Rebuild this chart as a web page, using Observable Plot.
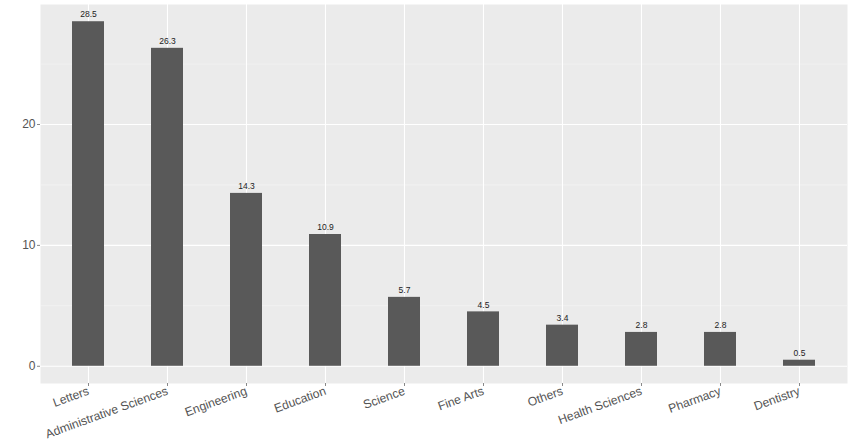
<!DOCTYPE html>
<html>
<head>
<meta charset="utf-8">
<script src="https://cdn.jsdelivr.net/npm/d3@7"></script>
<script src="https://cdn.jsdelivr.net/npm/@observablehq/plot@0.6"></script>
<style>
  html, body { margin: 0; padding: 0; background: #fff; }
  #chart { width: 851px; height: 448px; }
</style>
</head>
<body>
<div id="chart"></div>
<script>
const categories = ["Letters", "Administrative Sciences", "Engineering", "Education", "Science", "Fine Arts", "Others", "Health Sciences", "Pharmacy", "Dentistry"];
const values = [28.5, 26.3, 14.3, 10.9, 5.7, 4.5, 3.4, 2.8, 2.8, 0.5];
const majorTicks = [0, 10, 20];
const minorTicks = [5, 15, 25];

const data = categories.map((c, i) => ({category: c, value: values[i]}));
const yMax = d3.max(values);
const yDomain = [-0.05 * yMax, yMax * 1.05];

const chart = Plot.plot({
  width: 851,
  height: 448,
  marginLeft: 40,
  marginRight: 4,
  marginTop: 4,
  marginBottom: 65,
  style: {fontFamily: "'Liberation Sans', Arial, sans-serif", background: "#fff"},
  x: {domain: categories, paddingInner: 0.6, paddingOuter: 0.4, label: null},
  y: {domain: yDomain, label: null},
  marks: [
    Plot.frame({fill: "#EBEBEB", stroke: null}),
    Plot.ruleY(minorTicks, {stroke: "#f7f7f7", strokeWidth: 0.6}),
    Plot.ruleY(majorTicks, {stroke: "#fff", strokeWidth: 1.2}),
    Plot.ruleX(categories, {x: d => d, stroke: "#fff", strokeWidth: 1.1}),
    Plot.barY(data, {x: "category", y: "value", fill: "#595959"}),
    Plot.text(data, {x: "category", y: "value", text: d => d.value.toFixed(1), dy: -7, fontSize: 8.5, fill: "#222"}),
    Plot.axisY(majorTicks, {tickSize: 3, tickPadding: 2, fontSize: 12, fill: "#555", stroke: "#888"}),
    Plot.axisX({tickSize: 3, tickPadding: 4, tickRotate: -20, fontSize: 12.2, fill: "#555", stroke: "#888"})
  ]
});
document.getElementById("chart").appendChild(chart);
</script>
</body>
</html>
